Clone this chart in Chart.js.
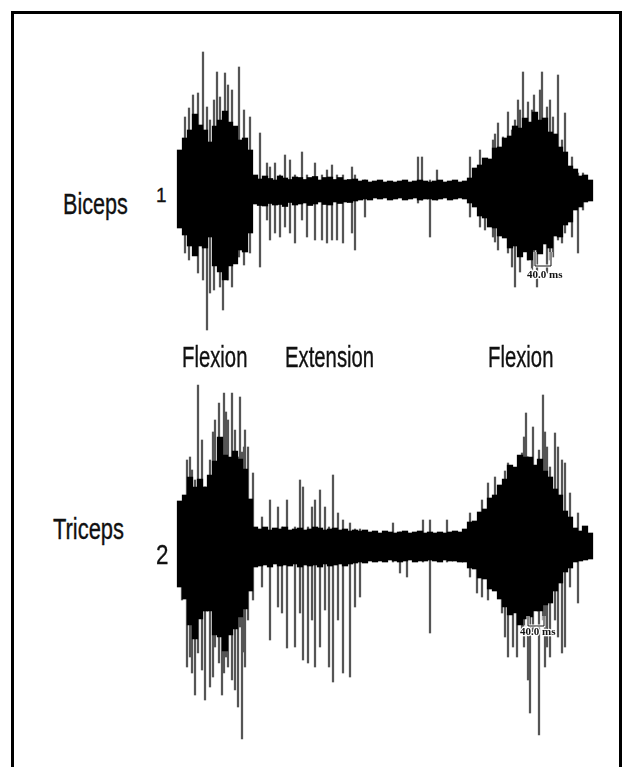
<!DOCTYPE html>
<html>
<head>
<meta charset="utf-8">
<script src="https://cdn.jsdelivr.net/npm/chart.js@4.4.1/dist/chart.umd.min.js"></script>
<style>
  html, body { margin:0; padding:0; background:#fff; }
  #page { position:relative; width:628px; height:767px; overflow:hidden; background:#fff; }
  #frame { position:absolute; left:11px; top:11px; width:611px; height:780px; border:3px solid #000; box-sizing:border-box; }
  canvas { position:absolute; }
  .lbl { position:absolute; font-family:"Liberation Sans", Arial, sans-serif; color:#111; line-height:1; white-space:nowrap; transform-origin:left top; -webkit-text-stroke:0.35px #111; }
</style>
</head>
<body>
<div id="page">
  <div id="frame"></div>
  <canvas id="topChart" width="430" height="340" style="left:170px;top:20px;"></canvas>
  <canvas id="botChart" width="430" height="400" style="left:170px;top:347px;"></canvas>
  <div class="lbl" style="left:63px;top:189px;font-size:30px;transform:scaleX(0.72);">Biceps</div>
  <div class="lbl" style="left:156px;top:184px;font-size:21px;transform:scaleX(0.9);">1</div>
  <div class="lbl" style="left:182px;top:343px;font-size:29px;transform:scaleX(0.7);">Flexion</div>
  <div class="lbl" style="left:285px;top:343px;font-size:29px;transform:scaleX(0.7);">Extension</div>
  <div class="lbl" style="left:488px;top:343px;font-size:29px;transform:scaleX(0.7);">Flexion</div>
  <div class="lbl" style="left:53px;top:514px;font-size:30px;transform:scaleX(0.73);">Triceps</div>
  <div class="lbl" style="left:156px;top:541px;font-size:28px;transform:scaleX(0.8);">2</div>
</div>
<script>
// ---- Sample step of the envelope columns (ms) ----
const sampleStepMs = 12.5;

// ---- Biceps (channel 1) envelope of the dense trace, µV above / below baseline ----
const bicepsUp = [400,520,600,760,650,600,480,640,700,790,680,640,500,520,400,
  150,110,140,115,100,140,120,105,130,125,105,125,135,100,125,130,105,125,100,105,110,
  90,100,80,90,100,80,90,80,90,100,80,90,100,90,80,90,100,80,90,100,80,90,
  120,220,250,320,310,420,430,520,540,640,620,720,680,780,700,720,580,560,430,380,240,210,140,150,100];
const bicepsDown = [380,450,560,660,560,580,470,760,820,900,760,740,600,620,430,
  140,155,160,135,150,145,165,125,150,140,130,155,140,120,145,150,120,135,120,125,110,
  100,90,100,80,90,80,100,90,80,100,90,80,100,90,90,100,90,80,100,90,80,90,
  130,170,260,280,370,380,460,480,580,560,670,620,700,600,640,540,580,460,470,350,320,200,170,120,110];

// ---- Biceps isolated spikes: time (ms), peak up / down (µV) ----
const bicepsSpikeT = [12.5,32.5,45,57.5,67.5,75,92.5,100,107.5,112.5,130,147.5,175,200,
  217.5,225,237.5,250,262.5,275,287.5,305,317.5,337.5,355,367.5,380,392.5,407.5,430,437.5,462.5,
  595,605,625,642.5,
  725,750,762.5,782.5,795,807.5,820,830,837.5,845,857.5,870,880,892.5,900,905,917.5,932.5,945,955,962.5,980,995,1007.5,
  22.5,85,120,160,787.5,850,885,925];
const bicepsSpikeUp = [730,950,970,1380,830,700,1180,930,730,1170,1000,1230,730,570,
  270,230,270,150,350,300,150,380,150,270,150,200,250,150,150,230,150,100,
  330,330,100,200,
  330,400,300,500,670,530,780,600,700,900,1180,880,800,600,1000,1180,830,730,1150,500,770,330,170,170,
  820,900,1050,800,560,800,950,900];
const bicepsSpikeDown = [630,530,830,900,1400,1030,500,970,1200,800,970,670,630,770,
  300,500,430,470,370,430,530,300,470,500,500,530,500,500,530,430,600,270,
  130,100,470,100,
  270,370,400,470,600,430,630,770,970,600,570,700,830,970,600,600,830,670,500,530,430,470,630,200,
  700,1000,900,750,520,820,760,700];

// ---- Triceps (channel 2) envelope ----
const tricepsUp = [460,520,700,600,680,600,720,860,1100,920,900,960,880,780,480,
  200,
  180,200,170,190,180,200,170,180,190,170,180,200,190,170,180,190,170,180,160,170,
  160,170,150,160,140,160,150,140,150,160,140,150,160,140,150,140,150,140,150,160,150,
  180,250,260,350,380,490,520,620,680,820,800,920,900,900,820,880,760,700,580,520,360,300,190,160,210,140];
const tricepsDown = [400,520,780,920,720,640,640,880,900,1040,880,820,700,620,440,
  200,
  190,180,200,170,190,180,190,170,200,180,190,180,200,170,190,180,170,190,170,160,
  150,160,140,150,140,150,130,140,150,140,130,150,140,140,130,140,150,130,140,140,150,
  150,210,220,310,320,420,440,520,600,680,660,780,720,700,640,640,580,560,440,360,250,210,150,140,130,120];

// ---- Triceps isolated spikes ----
const tricepsSpikeT = [5,17.5,30,37.5,45,55,62.5,75,87.5,97.5,105,110,120,130,137.5,145,150,155,162.5,170,182.5,
  205,225,245,255,267.5,287.5,300,307.5,320,330,337.5,350,362.5,372.5,382.5,395,407.5,425,437.5,450,
  532.5,550,567.5,607.5,625,667.5,
  725,742.5,755,770,787.5,805,820,832.5,842.5,855,865,870,875,882.5,897.5,907.5,917.5,925,937.5,955,962.5,975,995,1012.5,
  25,82.5,115,160,812.5,860,912.5,945];
const tricepsSpikeUp = [340,870,770,670,1620,1070,600,870,1270,1440,900,1540,1270,1540,1170,900,1500,950,1170,1000,740,
  300,470,400,200,470,200,670,600,200,400,470,570,400,200,720,340,270,240,180,180,
  240,150,150,270,270,270,
  340,200,470,640,700,540,840,600,670,940,1340,900,800,1200,970,1520,1000,800,1140,870,840,540,340,200,
  900,1150,1350,1000,760,1100,1150,1000];
const tricepsSpikeDown = [530,1200,1260,1480,1060,1230,1530,1400,1000,1160,1480,1260,1200,1330,1430,1600,800,1920,1200,730,530,
  400,930,600,660,1010,1000,660,1130,1160,730,1200,1000,630,1200,1350,730,1260,1300,600,500,
  150,260,300,150,860,150,
  300,460,500,530,400,660,1100,1000,1100,860,630,1330,1660,860,1880,730,1000,1100,730,1060,1000,400,560,60,
  1100,1300,1100,1050,900,1000,1200,900];

const scaleBarMs = 40;
const scaleBarLabel = '40.0 ms';

function envelope(up, down) {
  return up.map((u, i) => ({ x: i * sampleStepMs, y: [-down[i], u] }));
}
function spikes(t, up, down) {
  return t.map((tt, i) => ({ x: tt, y: [-down[i], up[i]] }));
}

const scaleBarPlugin = {
  id: 'scaleBar',
  afterDatasetsDraw(chart, args, o) {
    const { ctx, scales: { x, y } } = chart;
    const x0 = x.getPixelForValue(o.t), x1 = x.getPixelForValue(o.t + scaleBarMs);
    const yT = y.getPixelForValue(o.top), yB = y.getPixelForValue(o.bottom);
    ctx.save();
    ctx.strokeStyle = '#fff'; ctx.lineWidth = 3;
    ctx.beginPath(); ctx.moveTo(x0, yT); ctx.lineTo(x0, yB); ctx.lineTo(x1, yB); ctx.lineTo(x1, yT); ctx.stroke();
    ctx.strokeStyle = '#111'; ctx.lineWidth = 1;
    ctx.beginPath(); ctx.moveTo(x0, yT); ctx.lineTo(x0, yB); ctx.lineTo(x1, yB); ctx.lineTo(x1, yT); ctx.stroke();
    ctx.font = 'bold 11px "Liberation Serif", serif';
    ctx.textAlign = 'left'; ctx.textBaseline = 'middle';
    const ty = y.getPixelForValue(o.textY);
    ctx.lineWidth = 2.5; ctx.strokeStyle = '#fff';
    ctx.strokeText(scaleBarLabel, x0 - 8, ty);
    ctx.fillStyle = '#111';
    ctx.fillText(scaleBarLabel, x0 - 8, ty);
    ctx.restore();
  }
};

function makeChart(id, core, sp, range, bar) {
  return new Chart(document.getElementById(id), {
    type: 'bar',
    data: {
      datasets: [
        { label: 'core', data: core, backgroundColor: '#000', barThickness: 5.6 },
        { label: 'spikes', data: sp, backgroundColor: '#555', barThickness: 1.6 }
      ]
    },
    options: {
      responsive: false, animation: false, devicePixelRatio: 1,
      layout: { padding: 0 },
      datasets: { bar: { grouped: false, borderWidth: 0, borderSkipped: false } },
      plugins: { legend: { display: false }, tooltip: { enabled: false }, scaleBar: bar },
      scales: {
        x: { type: 'linear', min: -25, max: 1050, display: false, offset: false },
        y: { min: -range, max: range, display: false }
      }
    },
    plugins: [scaleBarPlugin]
  });
}

makeChart('topChart', envelope(bicepsUp, bicepsDown), spikes(bicepsSpikeT, bicepsSpikeUp, bicepsSpikeDown), 1700,
  { t: 887.5, top: -620, bottom: -760, textY: -850 });
makeChart('botChart', envelope(tricepsUp, tricepsDown), spikes(tricepsSpikeT, tricepsSpikeUp, tricepsSpikeDown), 2000,
  { t: 870, top: -690, bottom: -790, textY: -850 });
</script>
</body>
</html>
